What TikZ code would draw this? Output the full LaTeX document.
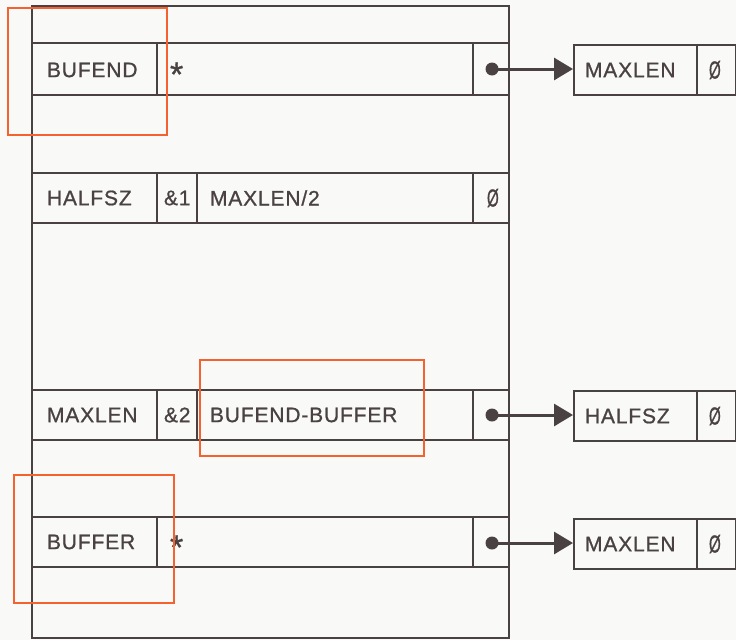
\documentclass[tikz,border=0pt]{standalone}
\usepackage{fontspec}
\setmainfont{Liberation Sans}
\newfontfamily\lblfont{Liberation Sans}[FakeBold=0.9,LetterSpace=4]
\usetikzlibrary{arrows.meta}
\definecolor{ink}{HTML}{4A4242}
\definecolor{hilite}{HTML}{F5622F}
\definecolor{paper}{HTML}{F9F9F7}
\newcommand\slz{\scalebox{0.72}[1.18]{Ø}}
\begin{document}
\begin{tikzpicture}[x=1pt,y=-1pt,line width=2pt,
  lbl/.style={anchor=west,inner sep=0pt,text=ink,font=\lblfont\fontsize{21}{24}\selectfont},
  star/.style={anchor=base west,inner sep=0pt,text=ink,font=\lblfont\fontsize{34}{34}\selectfont},
  frame/.style={draw=ink,line width=2pt},
  dotnode/.style={circle,fill=ink,inner sep=0pt,minimum size=13pt},
  ptr/.style={draw=ink,line width=3pt,-{Triangle[length=19pt,width=22pt]}},
  hl/.style={draw=hilite,line width=2pt},
  rbox/.style={draw=ink,line width=2pt,rectangle,anchor=north west,minimum width=162pt,minimum height=50pt,inner sep=0pt}]
\useasboundingbox (0,0) rectangle (736,640);
\fill[paper] (0,0) rectangle (736,640);
% outer frame
\draw[frame] (32,6) rectangle (509,638);
% row 1 BUFEND
\draw[frame] (32,43) -- (509,43) (32,95) -- (509,95) (157,43) -- (157,95) (473,43) -- (473,95);
\node[lbl] (t1a) at (46,70) {BUFEND};
\node[star] (t1b) at (169,86) {*};
\node[dotnode] (d1) at (492,69) {};
% row 2 HALFSZ
\draw[frame] (32,173) -- (509,173) (32,223) -- (509,223) (157,173) -- (157,223) (197,173) -- (197,223) (473,173) -- (473,223);
\node[lbl] (t2a) at (46,198) {HALFSZ};
\node[lbl] (t2b) at (163,198) {\&1};
\node[lbl] (t2c) at (209,198) {MAXLEN/2};
\node[lbl] (t2d) at (486,198) {\slz};
% row 3 MAXLEN
\draw[frame] (32,390) -- (509,390) (32,440) -- (509,440) (157,390) -- (157,440) (197,390) -- (197,440) (473,390) -- (473,440);
\node[lbl] (t3a) at (46,415) {MAXLEN};
\node[lbl] (t3b) at (163,415) {\&2};
\node[lbl] (t3c) at (209,415) {BUFEND-BUFFER};
\node[dotnode] (d3) at (492,415) {};
% row 4 BUFFER
\draw[frame] (32,517) -- (509,517) (32,567) -- (509,567) (157,517) -- (157,567) (473,517) -- (473,567);
\node[lbl] (t4a) at (46,542) {BUFFER};
\node[star] (t4b) at (169,559) {*};
\node[dotnode] (d4) at (492,543) {};
% right boxes
\node[rbox] (r1) at (573,44) {};
\draw[frame] (697,44) -- (697,94);
\node[lbl] (r1a) at (584,70) {MAXLEN};
\node[lbl] (r1b) at (708,70) {\slz};
\node[rbox] (r3) at (573,390) {};
\draw[frame] (697,390) -- (697,440);
\node[lbl] (r3a) at (584,416) {HALFSZ};
\node[lbl] (r3b) at (708,416) {\slz};
\node[rbox] (r4) at (573,518) {};
\draw[frame] (697,518) -- (697,568);
\node[lbl] (r4a) at (584,544) {MAXLEN};
\node[lbl] (r4b) at (708,544) {\slz};
% pointers
\draw[ptr] (d1.center) -- (d1.center -| r1.west);
\draw[ptr] (d3.center) -- (d3.center -| r3.west);
\draw[ptr] (d4.center) -- (d4.center -| r4.west);
% highlight boxes
\draw[hl] (8,8) rectangle (167,135);
\draw[hl] (200,360) rectangle (424,456);
\draw[hl] (14,475) rectangle (174,603);
\end{tikzpicture}
\end{document}
